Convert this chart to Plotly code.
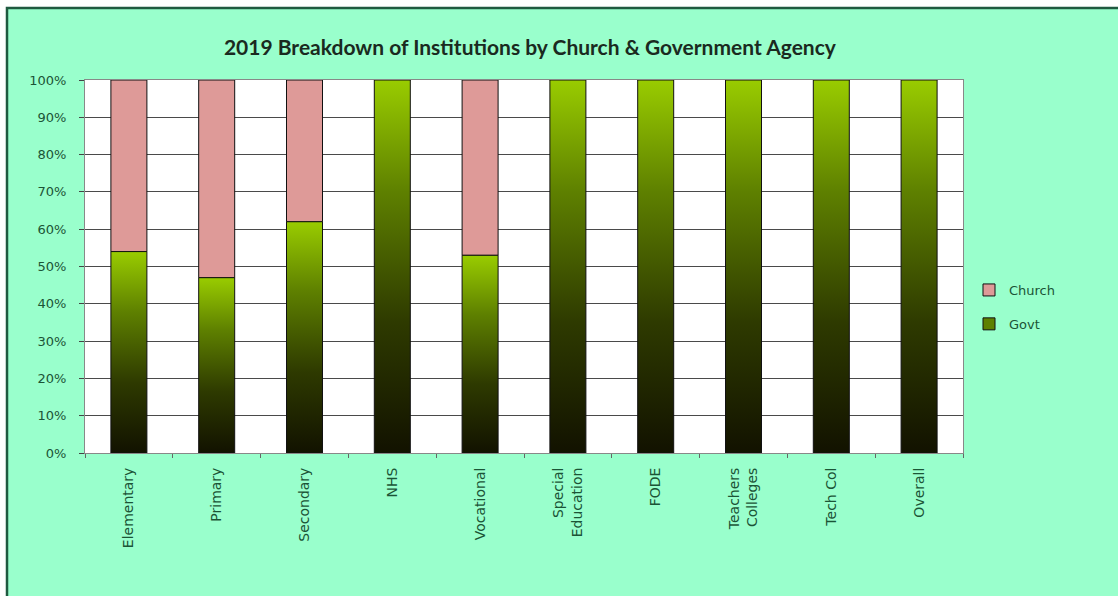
import plotly.graph_objects as go

# Share of institutions run by churches vs. government, 2019 (percent)
categories = ["Elementary", "Primary", "Secondary", "NHS", "Vocational",
              "Special<br>Education", "FODE", "Teachers<br>Colleges", "Tech Col", "Overall"]
govt = [54, 47, 62, 100, 53, 100, 100, 100, 100, 100]
church = [46, 53, 38, 0, 47, 0, 0, 0, 0, 0]
y_ticks = [0, 10, 20, 30, 40, 50, 60, 70, 80, 90, 100]
y_tick_labels = [f"{t}%" for t in y_ticks]

W, H = 1118, 596
ML, MR, MT, MB = 85, 155, 80, 143
BAR_W = 0.41
MINT = "#99FFCC"
PINK = "#DE9A98"
LABEL_GREEN = "#1B5436"
GREEN_SCALE = [[0.0, "#121200"], [0.35, "#2E3A00"], [0.7, "#5E8000"], [1.0, "#99CC00"]]

idx = list(range(len(categories)))
fig = go.Figure()

# Church share stacked on top of the government share
fig.add_trace(go.Bar(
    x=idx, y=church, base=govt, width=BAR_W, name="Church",
    marker=dict(color=PINK, line=dict(color="#111111", width=1)),
    legendgroup="church", hoverinfo="skip",
))

# Legend entry for the government share (square swatch)
fig.add_trace(go.Bar(
    x=[None], y=[None], name="Govt", legendgroup="govt",
    marker=dict(color="#5E8000", line=dict(color="#111111", width=1)),
    hoverinfo="skip",
))

# Government share: one gradient-filled column per category
for i, v in zip(idx, govt):
    x0, x1 = i - BAR_W / 2, i + BAR_W / 2
    fig.add_trace(go.Scatter(
        x=[x0, x1, x1, x0, x0], y=[0, 0, v, v, 0],
        mode="lines", fill="toself",
        fillgradient=dict(type="vertical", colorscale=GREEN_SCALE),
        line=dict(color="#111111", width=1),
        name="Govt", legendgroup="govt", showlegend=False,
        hoverinfo="skip",
    ))

# Convert pixel positions to paper coordinates for the frame shapes
def px_x(p):
    return (p - ML) / (W - ML - MR)

def px_y(p):
    return (H - MB - p) / (H - MT - MB)

# Mint chart area with a dark green frame, then the white plotting area
fig.add_shape(type="rect", xref="paper", yref="paper", layer="below",
              x0=px_x(7), x1=px_x(W + 10), y0=px_y(H + 10), y1=px_y(8),
              fillcolor=MINT, line=dict(color="#1F5A40", width=2.5))
fig.add_shape(type="rect", xref="paper", yref="paper", layer="below",
              x0=0, x1=1, y0=0, y1=1, fillcolor="white", line=dict(width=0))

fig.update_layout(
    width=W, height=H,
    margin=dict(l=ML, r=MR, t=MT, b=MB, pad=0),
    paper_bgcolor="white", plot_bgcolor="white",
    font=dict(family="DejaVu Sans, sans-serif", size=12, color=LABEL_GREEN),
    title=dict(text="<b>2019 Breakdown of Institutions by Church & Government Agency</b>",
               x=0.474, xanchor="center", y=1 - 48 / H, yanchor="middle",
               font=dict(family="Lato, sans-serif", size=21, color="#1A2A20")),
    barmode="overlay",
    showlegend=True,
    legend=dict(x=px_x(969), y=px_y(307), xanchor="left", yanchor="middle",
                bgcolor="rgba(0,0,0,0)", traceorder="grouped",
                font=dict(size=13, color=LABEL_GREEN), itemwidth=30,
                tracegroupgap=14),
    xaxis=dict(range=[-0.5, len(categories) - 0.5], tickmode="array",
               tickvals=idx, ticktext=categories, tickangle=-90,
               tickfont=dict(size=14),
               ticks="", showgrid=False, zeroline=False,
               showline=True, linecolor="#888888", linewidth=1, mirror=True,
               minor=dict(tickvals=[i - 0.5 for i in idx] + [len(categories) - 0.5],
                          ticks="outside", ticklen=4, tickcolor="#666666", showgrid=False),
               ticklabelstandoff=8),
    yaxis=dict(range=[0, 100], tickmode="array", tickvals=y_ticks, ticktext=y_tick_labels,
               tickfont=dict(size=13),
               ticks="outside", ticklen=5, tickcolor="#444444",
               showgrid=True, gridcolor="#4A4A4A", gridwidth=1, zeroline=False,
               showline=True, linecolor="#888888", linewidth=1, mirror=True,
               ticklabelstandoff=10),
)

fig.write_html("out.html")
